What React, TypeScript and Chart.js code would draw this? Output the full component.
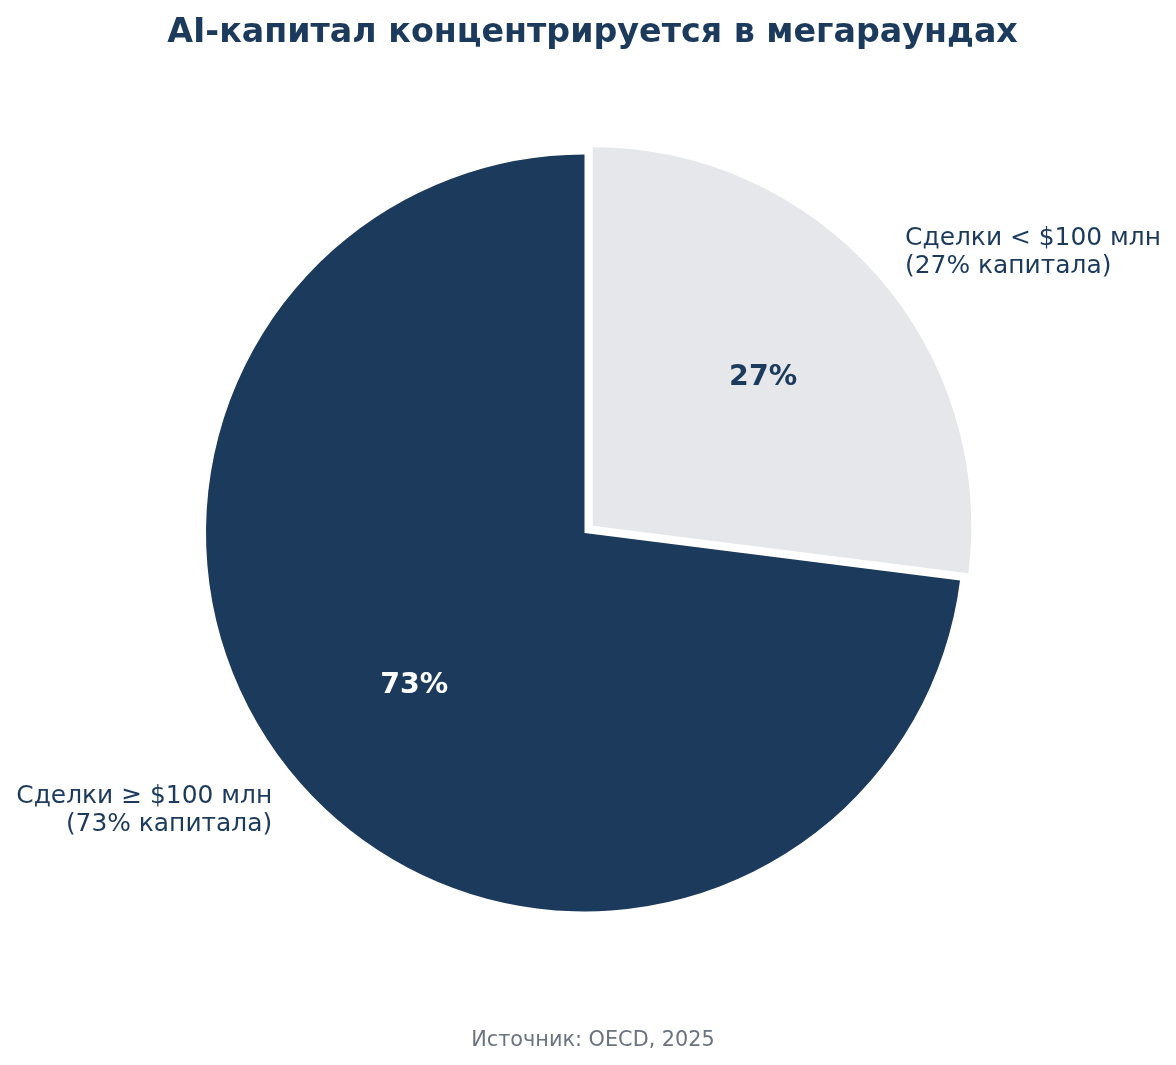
import React, { useEffect, useRef } from "react";
import { Chart, registerables } from "chart.js";

Chart.register(...registerables);

const categories = ["Сделки < $100 млн", "Сделки ≥ $100 млн"];
const subLabels = ["(27% капитала)", "(73% капитала)"];
const values = [27, 73];
const pctLabels = ["27%", "73%"];
const colors = ["#e5e7eb", "#1b3a5c"];
const pctColors = ["#1b3a5c", "#ffffff"];
const offsets = [44, 0];
const titleText = "AI-капитал концентрируется в мегараундах";
const sourceText = "Источник: OECD, 2025";

const FONT = "'DejaVu Sans', sans-serif";
const NAVY = "#1b3a5c";

const labelPlugin = {
  id: "pieLabels",
  afterDraw(chart: any) {
    const ctx = chart.ctx;
    const meta = chart.getDatasetMeta(0);
    ctx.save();
    meta.data.forEach((arc: any, i: number) => {
      const { x, y, startAngle, endAngle, outerRadius } = arc.getProps(
        ["x", "y", "startAngle", "endAngle", "outerRadius"],
        true
      );
      const mid = (startAngle + endAngle) / 2;
      const off = (offsets[i] || 0) / 4;
      const cx = x + Math.cos(mid) * off;
      const cy = y + Math.sin(mid) * off;
      // percent label
      const pr = outerRadius * 0.6;
      ctx.font = `bold 28.4px ${FONT}`;
      ctx.fillStyle = pctColors[i];
      ctx.textAlign = "center";
      ctx.textBaseline = "middle";
      ctx.fillText(pctLabels[i], cx + Math.cos(mid) * pr, cy + Math.sin(mid) * pr + 2);
      // outer label
      const lr = outerRadius * 1.1;
      const lx = cx + Math.cos(mid) * lr;
      const ly = cy + Math.sin(mid) * lr;
      ctx.font = `24.9px ${FONT}`;
      ctx.fillStyle = NAVY;
      ctx.textAlign = Math.cos(mid) >= 0 ? "left" : "right";
      ctx.textBaseline = "middle";
      const lh = 27.5;
      ctx.fillText(categories[i], lx, ly - lh / 2 + 2);
      ctx.fillText(subLabels[i], lx, ly + lh / 2 + 2);
    });
    // title
    ctx.font = `bold 33.3px ${FONT}`;
    ctx.fillStyle = NAVY;
    ctx.textAlign = "center";
    ctx.textBaseline = "alphabetic";
    ctx.fillText(titleText, 592.5, 42);
    // source
    ctx.font = `20.8px ${FONT}`;
    ctx.fillStyle = "#6b7280";
    ctx.fillText(sourceText, 593, 1046);
    ctx.restore();
  },
};

export default function App() {
  const ref = useRef<HTMLCanvasElement>(null);
  useEffect(() => {
    document.body.style.margin = "0";
    const chart = new Chart(ref.current!, {
      type: "pie",
      data: {
        labels: categories,
        datasets: [
          {
            data: values,
            backgroundColor: colors,
            borderWidth: 0,
            offset: offsets,
          },
        ],
      },
      options: {
        animation: false,
        responsive: false,
        devicePixelRatio: 1,
        radius: 378.5,
        layout: { padding: { left: 0, right: 7, top: 1, bottom: 0 } },
        plugins: {
          legend: { display: false },
          tooltip: { enabled: false },
          title: { display: false },
        },
      },
      plugins: [labelPlugin],
    });
    return () => chart.destroy();
  }, []);
  return (
    <div style={{ width: 1176, height: 1065, background: "#fff" }}>
      <canvas ref={ref} width={1176} height={1065} style={{ display: "block" }} />
    </div>
  );
}
